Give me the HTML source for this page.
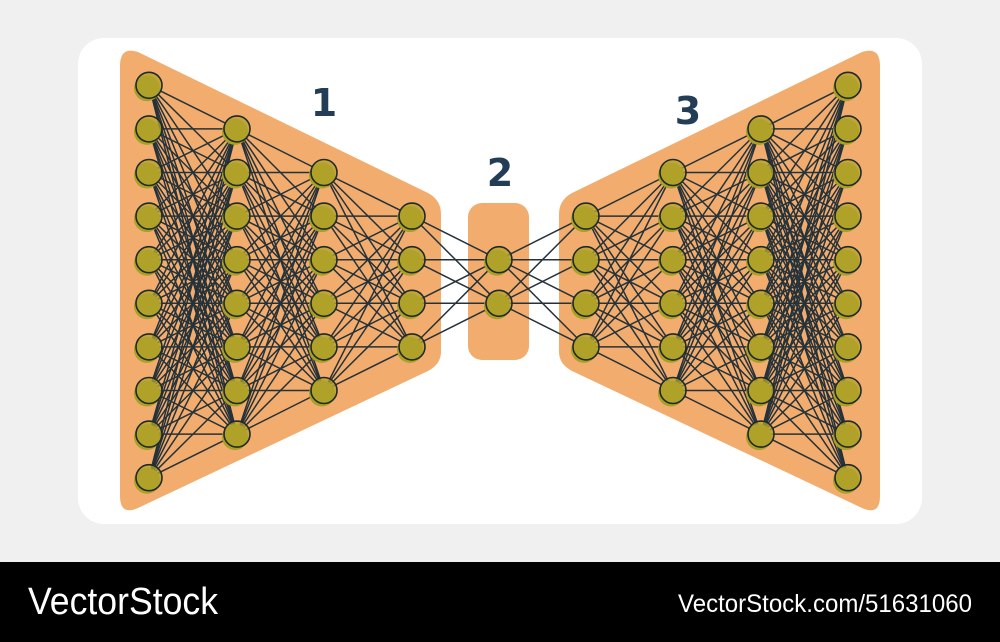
<!DOCTYPE html>
<html><head><meta charset="utf-8"><style>
html,body{margin:0;padding:0;width:1000px;height:642px;overflow:hidden;background:#f0f0f0}
svg{display:block}
</style></head><body>
<svg id="s" width="1000" height="642" viewBox="0 0 1000 642" xmlns="http://www.w3.org/2000/svg">
<rect x="0" y="0" width="1000" height="642" fill="#f0f0f0"/>
<rect x="78" y="38" width="844" height="486" rx="26" fill="#ffffff"/>
<path d="M120 66 Q120 46 138 52 L428 193 Q441 200 441 214 L441 352 Q441 364 428 371 L138 508 Q120 516 120 496 Z" fill="#f2ad6e"/>
<path d="M880 66 Q880 46 862 52 L572 193 Q559 200 559 214 L559 352 Q559 364 572 371 L862 508 Q880 516 880 496 Z" fill="#f2ad6e"/>
<rect x="468" y="203" width="61" height="157" rx="14" fill="#f2ad6e"/>
<g id="lines" stroke="#25323a" stroke-width="1.5"></g>
<g id="nodes"></g>
<g font-family="DejaVu Sans, sans-serif" font-weight="bold" font-size="38" fill="#233d57" text-anchor="middle">
<text x="324" y="116">1</text>
<text x="500" y="186">2</text>
<text x="688" y="124">3</text>
</g>
<rect x="0" y="562" width="1000" height="80" fill="#000"/>
<text x="28" y="614" font-family="Liberation Sans, sans-serif" font-size="38" fill="#fff" textLength="190" lengthAdjust="spacingAndGlyphs">VectorStock</text>
<text x="678" y="612" font-family="Liberation Sans, sans-serif" font-size="25" fill="#fff" textLength="294" lengthAdjust="spacingAndGlyphs">VectorStock.com/51631060</text>
</svg>
<script>
var xs=[149,237,324,412,499,586,673,761,848],ns=[10,8,6,4,2,4,6,8,10],sp=43.6,cy=281.5;
var L=[];for(var i=0;i<9;i++){var a=[];for(var j=0;j<ns[i];j++)a.push(cy+(j-(ns[i]-1)/2)*sp);L.push(a);}
var NS="http://www.w3.org/2000/svg",lg=document.getElementById('lines'),ng=document.getElementById('nodes');
function el(t,at,p){var e=document.createElementNS(NS,t);for(var k in at)e.setAttribute(k,at[k]);p.appendChild(e);}
for(var i=0;i<8;i++)for(var a=0;a<L[i].length;a++)for(var b=0;b<L[i+1].length;b++)
 el('line',{x1:xs[i],y1:L[i][a],x2:xs[i+1],y2:L[i+1][b]},lg);
for(var i=0;i<9;i++)for(var a=0;a<L[i].length;a++){
 el('circle',{cx:xs[i]-2,cy:L[i][a]+3,r:13,fill:'#a9a025'},ng);
 el('circle',{cx:xs[i],cy:L[i][a],r:13,fill:'#b3a32b',stroke:'#1f2a2a','stroke-width':1.6,'fill-opacity':0.75},ng);
}
</script>
</body></html>
